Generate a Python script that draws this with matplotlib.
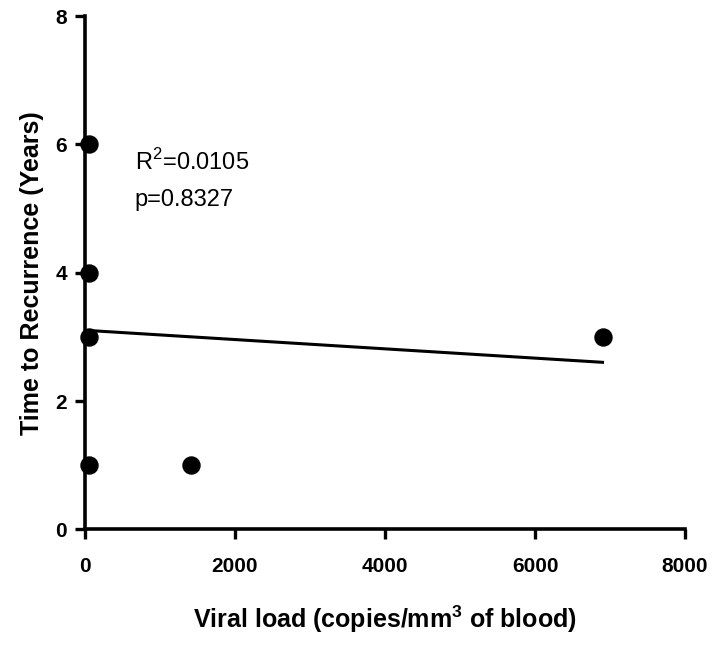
import numpy as np
import matplotlib
matplotlib.use("Agg")
import matplotlib.pyplot as plt

plt.rcParams['font.family'] = ['Liberation Sans', 'DejaVu Sans']
plt.rcParams['mathtext.fontset'] = 'custom'
plt.rcParams['mathtext.rm'] = 'Liberation Sans'
plt.rcParams['mathtext.bf'] = 'Liberation Sans:bold'

viral_load = [57, 57, 57, 57, 1413, 6900]
years = [6, 4, 3, 1, 1, 3]
x_ticks = [0, 2000, 4000, 6000, 8000]
y_ticks = [0, 2, 4, 6, 8]
r2_text = "R$^{2}$=0.0105"
p_text = "p=0.8327"

fig = plt.figure(figsize=(7.22, 6.48), dpi=100)
ax = fig.add_axes([0.1177, 0.1832, 0.8311, 0.7918])

ax.scatter(viral_load, years, s=150, color='black', zorder=3, clip_on=False)

slope, intercept = np.polyfit(viral_load, years, 1)
xl = np.array([min(viral_load), max(viral_load)])
ax.plot(xl, slope * xl + intercept, color='black', lw=2.2, zorder=2)

ax.set_xlim(0, 8000)
ax.set_ylim(0, 8)
ax.set_xticks(x_ticks)
ax.set_yticks(y_ticks)
for s in ['top', 'right']:
    ax.spines[s].set_visible(False)
for s in ['left', 'bottom']:
    ax.spines[s].set_linewidth(2.6)
ax.tick_params(direction='out', length=7, width=2.4, labelsize=15)
ax.tick_params(axis='x', pad=13)
ax.tick_params(axis='y', pad=6)
for lbl in ax.get_xticklabels() + ax.get_yticklabels():
    lbl.set_fontweight('bold')

ax.set_xlabel("Viral load (copies/mm$^{\\mathbf{3}}$ of blood)", fontsize=18, fontweight='bold', labelpad=20)
ax.set_ylabel("Time to Recurrence (Years)", fontsize=18, fontweight='bold', labelpad=8)

ax.text(662, 5.73, r2_text, fontsize=17, va='center', ha='left')
ax.text(662, 5.13, p_text, fontsize=17, va='center', ha='left')

fig.savefig("out.png", dpi=100)
